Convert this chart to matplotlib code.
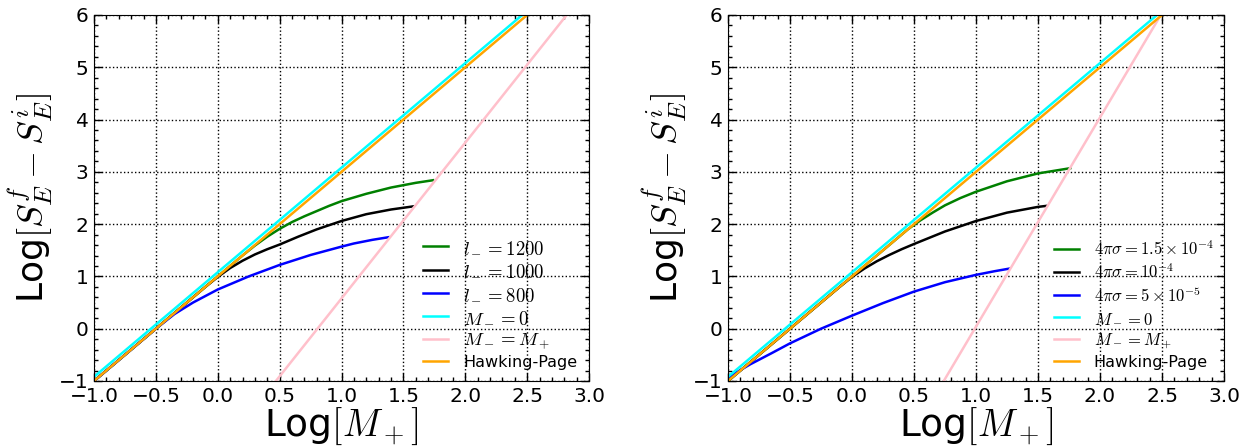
import numpy as np
import matplotlib
matplotlib.use('Agg')
import matplotlib.pyplot as plt
from matplotlib.ticker import MultipleLocator

plt.rcParams['mathtext.fontset'] = 'cm'
plt.rcParams['font.family'] = 'DejaVu Sans'

# --- dados ---
# linhas de referencia (iguais nos dois paineis)
x_hp = [-1.0, 2.5]
y_hp = [-1.0, 6.0]
x_m0 = [-1.0, 2.46]
y_m0 = [-0.92, 6.0]

# painel esquerdo
x_pink_l = [0.47, 2.82]
y_pink_l = [-1.0, 6.0]
x_l1200 = [-1.0, 0.0, 0.2, 0.3, 0.4, 0.5, 0.6, 0.7, 0.8, 0.9, 1.0, 1.2, 1.4, 1.6, 1.74]
y_l1200 = [-1.0, 1.0, 1.4, 1.59, 1.76, 1.91, 2.04, 2.15, 2.25, 2.35, 2.44, 2.58, 2.7, 2.79, 2.84]
x_l1000 = [-1.0, -0.5, -0.1, 0.0, 0.1, 0.2, 0.3, 0.4, 0.5, 0.65, 0.8, 1.0, 1.2, 1.4, 1.58]
y_l1000 = [-1.0, 0.0, 0.8, 0.99, 1.16, 1.3, 1.42, 1.52, 1.61, 1.76, 1.9, 2.06, 2.19, 2.28, 2.34]
x_l800 = [-1.0, -0.5, -0.35, -0.2, 0.0, 0.25, 0.5, 0.75, 1.0, 1.1, 1.25, 1.38]
y_l800 = [-1.0, 0.0, 0.28, 0.5, 0.75, 1.0, 1.22, 1.41, 1.57, 1.63, 1.7, 1.75]

# painel direito
x_pink_r = [0.74, 2.49]
y_pink_r = [-1.0, 6.0]
x_s15 = [-1.0, 0.0, 0.45, 0.55, 0.65, 0.75, 0.875, 1.0, 1.25, 1.5, 1.76]
y_s15 = [-1.0, 1.0, 1.9, 2.07, 2.22, 2.36, 2.5, 2.62, 2.82, 2.97, 3.07]
x_s10 = [-1.0, -0.5, -0.1, 0.0, 0.1, 0.2, 0.3, 0.4, 0.5, 0.75, 1.0, 1.25, 1.5, 1.57]
y_s10 = [-1.0, 0.0, 0.8, 0.99, 1.15, 1.29, 1.41, 1.52, 1.62, 1.86, 2.06, 2.22, 2.33, 2.35]
x_s05 = [-1.0, -0.82, -0.65, -0.5, -0.25, 0.0, 0.25, 0.5, 0.75, 1.0, 1.15, 1.27]
y_s05 = [-0.93, -0.68, -0.47, -0.28, 0.0, 0.25, 0.49, 0.71, 0.89, 1.03, 1.1, 1.15]

labels_l = [r'$l_-=1200$', r'$l_-=1000$', r'$l_-=800$']
labels_r = [r'$4\pi\sigma=1.5\times10^{-4}$', r'$4\pi\sigma=10^{-4}$',
            r'$4\pi\sigma=5\times10^{-5}$']

fig = plt.figure(figsize=(12.48, 4.46), dpi=100)
ax1 = fig.add_axes([94/1248, 65/446, 495/1248, 366/446])
ax2 = fig.add_axes([728/1248, 65/446, 496/1248, 366/446])

lw = 1.8
paineis = [
    (ax1, [(x_l1200, y_l1200), (x_l1000, y_l1000), (x_l800, y_l800)], labels_l,
     (x_pink_l, y_pink_l), 0.665, 13.5),
    (ax2, [(x_s15, y_s15), (x_s10, y_s10), (x_s05, y_s05)], labels_r,
     (x_pink_r, y_pink_r), 0.657, 12),
]

for ax, curvas, labels, pink, leg_x, fs_math in paineis:
    for (xs, ys), c, lab in zip(curvas, ['green', 'black', 'blue'], labels):
        ax.plot(xs, ys, color=c, lw=lw, label=lab)
    ax.plot(x_m0, y_m0, color='cyan', lw=lw, label=r'$M_-=0$')
    ax.plot(pink[0], pink[1], color='pink', lw=lw, label=r'$M_-=M_+$')
    ax.plot(x_hp, y_hp, color='orange', lw=lw, label='Hawking-Page')

    ax.set_xlim(-1, 3)
    ax.set_ylim(-1, 6)
    ax.xaxis.set_major_locator(MultipleLocator(0.5))
    ax.xaxis.set_minor_locator(MultipleLocator(0.1))
    ax.yaxis.set_major_locator(MultipleLocator(1))
    ax.yaxis.set_minor_locator(MultipleLocator(0.2))
    ax.tick_params(which='both', direction='in', top=True, right=True,
                   labelsize=14.5, width=1)
    ax.tick_params(which='major', length=6, pad=4)
    ax.tick_params(which='minor', length=3)
    ax.grid(True, which='major', color='k', linestyle=':', linewidth=1)

    ax.set_xlabel(r'Log$[M_+]$', fontsize=27, labelpad=0)
    ax.set_ylabel(r'Log$[S_E^f-S_E^i]$', fontsize=26, labelpad=3)

    leg = ax.legend(loc='lower left', bbox_to_anchor=(leg_x, 0.03), frameon=False,
                    fontsize=12, handlelength=1.5, handletextpad=0.9,
                    labelspacing=0.25, borderpad=0, borderaxespad=0)
    # texto matematico um pouco maior, como no original
    for t in leg.get_texts():
        t.set_fontsize(fs_math if t.get_text().startswith('$') else 11.5)

fig.savefig('out.png', dpi=100)
